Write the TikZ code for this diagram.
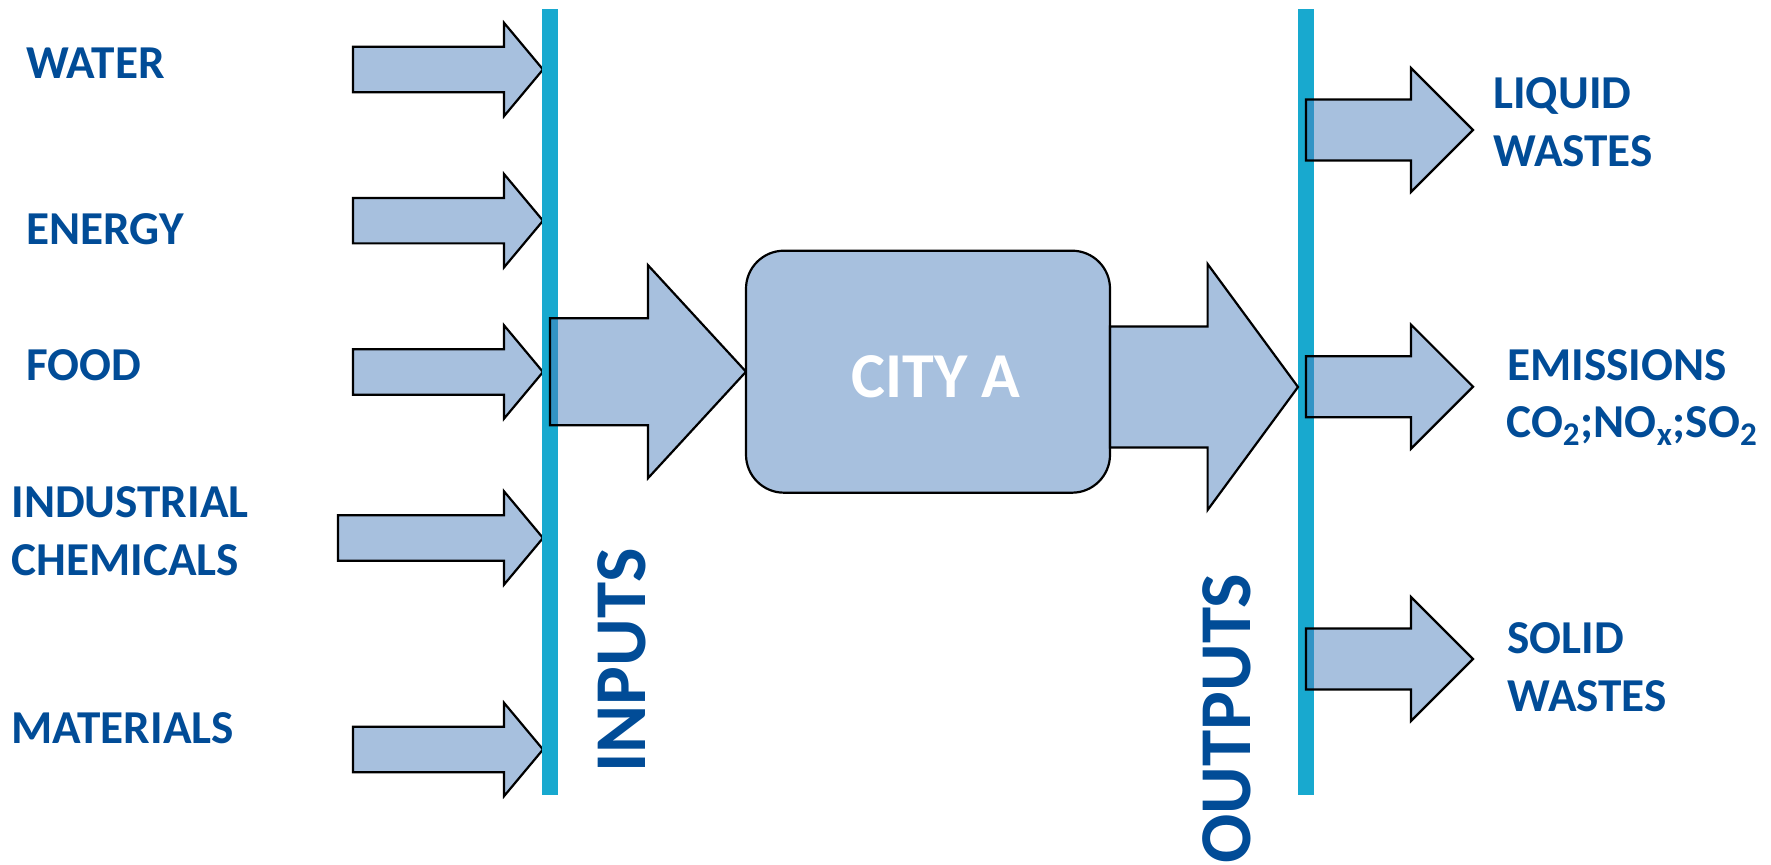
\documentclass[tikz,border=0pt]{standalone}
\usepackage{fontspec}
\setmainfont{Carlito}

\definecolor{flowfill}{RGB}{79,129,189}
\definecolor{boxfill}{RGB}{167,192,222}
\definecolor{rail}{RGB}{24,169,207}
\definecolor{labelblue}{RGB}{1,76,151}

\tikzset{
  flow/.style={fill=flowfill, fill opacity=0.5, draw=black, draw opacity=1,
               line width=1.1pt, line join=miter},
  railbar/.style={fill=rail, draw=none},
  citybox/.style={fill=boxfill, draw=black, line width=1.1pt,
                  rounded corners=19pt, minimum width=182pt, minimum height=121pt,
                  inner sep=0pt},
  citytext/.style={text=white, inner sep=0pt,
                   font=\fontsize{32}{36}\selectfont\bfseries},
  lbl/.style={text=labelblue, font=\fontsize{23.6}{29}\selectfont\bfseries,
              inner sep=0pt, anchor=base west},
  sidelbl/.style={text=labelblue, font=\fontsize{36.5}{40}\selectfont\bfseries,
                  inner sep=0pt, anchor=base west, rotate=90}
}

% block arrow: tail x, head base x, tip x, centre y, shaft half height, head half height
\newcommand\blockarrow[6]{%
  \draw[flow] ({#1},{#4-#5}) -- ({#2},{#4-#5}) -- ({#2},{#4-#6}) -- ({#3},{#4})
    -- ({#2},{#4+#6}) -- ({#2},{#4+#5}) -- ({#1},{#4+#5}) -- cycle;}

\begin{document}
\begin{tikzpicture}[x=0.5pt,y=-0.5pt]
  \useasboundingbox (0,0) rectangle (1771,865);

  % incoming flows
  \blockarrow{353}{504}{543}{69.5}{22.7}{46.7}
  \blockarrow{353}{504}{543}{220.7}{22.7}{46.7}
  \blockarrow{353}{504}{543}{372}{22.7}{46.7}
  \blockarrow{338}{504}{543}{538}{22.7}{46.7}
  \blockarrow{353}{504}{543}{749.5}{22.7}{46.7}

  % system boundaries
  \fill[railbar] (542,9) rectangle (558,795);
  \fill[railbar] (1298,9) rectangle (1314,795);

  % main flow into and out of the city
  \blockarrow{550}{648}{746}{371.7}{53.5}{106.5}
  \node[citybox] (city) at (928,371.7) {};
  \node[citytext] (citylabel) at ([xshift=4pt,yshift=-2.5pt]city.center) {CITY A};
  \blockarrow{1110}{1207.6}{1298}{387}{60.5}{123}

  % outgoing flows
  \blockarrow{1306}{1411}{1473}{130}{30.5}{62}
  \blockarrow{1306}{1411}{1473}{386.7}{30.5}{62}
  \blockarrow{1306}{1411}{1473}{659}{30.5}{62}

  % input labels
  \node[lbl] (water) at (26,79) {WATER};
  \node[lbl] (energy) at (26,245) {ENERGY};
  \node[lbl] (food) at (26,381) {FOOD};
  \node[lbl] (indus) at (11,517) {INDUSTRIAL};
  \node[lbl] (chem) at (11,575) {CHEMICALS};
  \node[lbl] (mater) at (11,743) {MATERIALS};

  % output labels
  \node[lbl] (liquid) at (1493,109) {LIQUID};
  \node[lbl] (lwastes) at (1493,167) {WASTES};
  \node[lbl] (emis) at (1507,381) {EMISSIONS};
  \node[lbl] (gases) at (1506,438) {CO\textsubscript{2};NO\textsubscript{x};SO\textsubscript{2}};
  \node[lbl] (solid) at (1507,653) {SOLID};
  \node[lbl] (swastes) at (1507,711) {WASTES};

  % boundary captions
  \node[sidelbl] (inputs) at (645,773) {INPUTS};
  \node[sidelbl] (outputs) at (1250,864) {OUTPUTS};
\end{tikzpicture}
\end{document}
